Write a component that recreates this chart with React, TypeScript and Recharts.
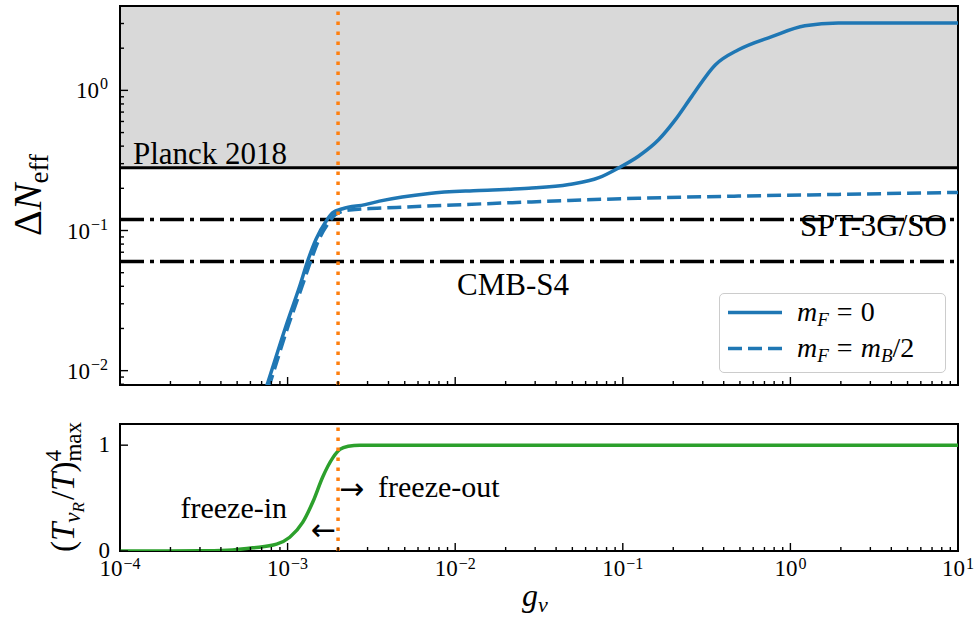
import React from "react";
import {
    LineChart,
    Line,
    XAxis,
    YAxis,
    ReferenceLine,
    ReferenceArea,
    Legend,
} from "recharts";

const BLUE = "#1f77b4";
const ORANGE = "#ff7f0e";
const GREEN = "#2ca02c";
const FONT = "Liberation Serif, Times New Roman, DejaVu Serif, serif";
const ARROW_FONT = "DejaVu Sans, sans-serif";

// m_F = 0 (solid)
const gSolid = [
    6.3e-4, 7.64e-4, 9.8e-4, 1.18e-3, 1.32e-3, 1.48e-3, 1.7e-3, 1.86e-3, 2.13e-3, 2.9e-3,
    3.53e-3, 7.0e-3, 0.0139, 0.0275, 0.0477, 0.072, 0.0946, 0.124, 0.164, 0.206, 0.258,
    0.356, 0.49, 0.774, 1.22, 1.93, 10,
];
const dNeffSolid = [
    0.0041, 0.0083, 0.021, 0.04, 0.061, 0.087, 0.117, 0.134, 0.143, 0.153,
    0.162, 0.184, 0.193, 0.2, 0.213, 0.238, 0.28, 0.339, 0.446, 0.618, 0.906,
    1.52, 1.95, 2.42, 2.89, 3.02, 3.02,
];

// m_F = m_B/2 (dashed)
const gDashed = [
    6.5e-4, 7.9e-4, 1.01e-3, 1.22e-3, 1.37e-3, 1.53e-3, 1.76e-3, 1.93e-3, 2.34e-3, 4.44e-3,
    0.011, 0.0219, 0.0477, 0.124, 0.49, 1.93, 10,
];
const dNeffDashed = [
    0.004, 0.0083, 0.021, 0.04, 0.06, 0.085, 0.114, 0.13, 0.14, 0.146,
    0.153, 0.158, 0.164, 0.17, 0.176, 0.181, 0.187,
];

// (T_nuR / T)^4_max
const gTemp = [
    1e-4, 2e-4, 3e-4, 4e-4, 4.7e-4, 6.2e-4, 8.6e-4, 1.03e-3, 1.23e-3, 1.42e-3, 1.62e-3,
    1.86e-3, 2.05e-3, 2.3e-3, 2.7e-3, 10,
];
const tempRatio = [
    0, 0.0005, 0.002, 0.005, 0.01, 0.03, 0.065, 0.13, 0.27, 0.47, 0.7,
    0.88, 0.96, 0.99, 1.0, 1.0,
];

const planckLimit = 0.28;
const sptLimit = 0.12;
const cmbS4Limit = 0.06;
const gTransition = 2e-3;

const xDomain = [1e-4, 10];
const yDomainTop = [0.0079, 4.0];
const yDomainBottom = [0, 1.2];
const yTicksBottom = [0, 1];

const decadeTicks = (lo: number, hi: number) => {
    const out: number[] = [];
    for (let e = Math.floor(Math.log10(lo)); e <= Math.ceil(Math.log10(hi)); e++) {
        for (let m = 1; m <= 9; m++) {
            const v = m * Math.pow(10, e);
            if (v >= lo * 0.999 && v <= hi * 1.001) out.push(v);
        }
    }
    return out;
};
const xTicks = decadeTicks(xDomain[0], xDomain[1]);
const yTicksTop = decadeTicks(yDomainTop[0], yDomainTop[1]);

const solidData = gSolid.map((g, i) => ({ g, v: dNeffSolid[i] }));
const dashedData = gDashed.map((g, i) => ({ g, v: dNeffDashed[i] }));
const tempData = gTemp.map((g, i) => ({ g, v: tempRatio[i] }));

const isMajor = (v: number) =>
    Math.abs(Math.log10(v) - Math.round(Math.log10(v))) < 1e-6;
const expText = (v: number) => {
    const e = Math.round(Math.log10(v));
    return e < 0 ? `\u2212${-e}` : `${e}`;
};

const PLOT_LEFT = 120;
const TOP_BOTTOM = 385;
const BOT_BOTTOM = 161; // bottom panel chart starts at page y=390

function LogXTick(props: any) {
    const { x, payload, bottom, showLabel } = props;
    const major = isMajor(payload.value);
    return (
        <g>
            <line x1={x} x2={x} y1={bottom} y2={bottom - (major ? 8 : 4)} stroke="#000" strokeWidth={1.4} />
            {showLabel && major && (
                <text x={x} y={bottom + 25} textAnchor="middle" fontFamily={FONT} fontSize={23} fill="#000">
                    10
                    <tspan dy={-7} dx={1} fontSize={16}>{expText(payload.value)}</tspan>
                </text>
            )}
        </g>
    );
}

function LogYTick(props: any) {
    const { y, payload } = props;
    const major = isMajor(payload.value);
    return (
        <g>
            <line x1={PLOT_LEFT} x2={PLOT_LEFT + (major ? 8 : 4)} y1={y} y2={y} stroke="#000" strokeWidth={1.4} />
            {major && (
                <text x={PLOT_LEFT - 12} y={y + 8} textAnchor="end" fontFamily={FONT} fontSize={23} fill="#000">
                    10
                    <tspan dy={-9} dx={1} fontSize={16}>{expText(payload.value)}</tspan>
                </text>
            )}
        </g>
    );
}

function LinYTick(props: any) {
    const { y, payload } = props;
    return (
        <g>
            <line x1={PLOT_LEFT} x2={PLOT_LEFT + 8} y1={y} y2={y} stroke="#000" strokeWidth={1.4} />
            <text x={PLOT_LEFT - 10} y={y + 7} textAnchor="end" fontFamily={FONT} fontSize={23} fill="#000">
                {payload.value}
            </text>
        </g>
    );
}

const DeltaNeffTitle = () => (
    <text transform="translate(41,195) rotate(-90)" textAnchor="middle" fontFamily={FONT} fontSize={40} fill="#000">
        Δ<tspan fontStyle="italic">N</tspan>
        <tspan fontSize={27} dy={7}>eff</tspan>
    </text>
);

const TempTitle = () => (
    <text transform="translate(74,97) rotate(-90)" textAnchor="middle" fontFamily={FONT} fontSize={33} fill="#000">
        (<tspan fontStyle="italic">T</tspan>
        <tspan fontStyle="italic" fontSize={23} dy={6}>ν</tspan>
        <tspan fontStyle="italic" fontSize={17} dy={4}>R</tspan>
        <tspan dy={-10} dx={2}>/</tspan>
        <tspan fontStyle="italic">T</tspan>)
        <tspan fontSize={23} dy={-13}>4</tspan>
        <tspan fontSize={23} dx={-11.5} dy={20}>max</tspan>
    </text>
);

const GTitle = () => (
    <text x={535} y={216} textAnchor="middle" fontFamily={FONT} fontSize={32} fill="#000">
        <tspan fontStyle="italic">g</tspan>
        <tspan fontStyle="italic" fontSize={22} dy={6}>ν</tspan>
    </text>
);

const labelText = {
    fontFamily: FONT,
    fontSize: 31,
    fill: "#000",
};

function LegendBox() {
    return (
        <div
            style={{
                width: 227,
                height: 80,
                boxSizing: "border-box",
                border: "1.5px solid #cccccc",
                borderRadius: 5,
                background: "rgba(255,255,255,0.8)",
            }}
        >
            <svg width={224} height={77} style={{ display: "block" }}>
                <line x1={8} x2={62} y1={18.5} y2={18.5} stroke={BLUE} strokeWidth={3.5} />
                <text x={77} y={27} fontFamily={FONT} fontSize={28} fill="#000">
                    <tspan fontStyle="italic">m</tspan>
                    <tspan fontStyle="italic" fontSize={19} dy={5}>F</tspan>
                    <tspan dy={-5} dx={8}>=</tspan>
                    <tspan dx={8}>0</tspan>
                </text>
                <line x1={8} x2={62} y1={54.5} y2={54.5} stroke={BLUE} strokeWidth={3.5} strokeDasharray="14 6" />
                <text x={77} y={63} fontFamily={FONT} fontSize={28} fill="#000">
                    <tspan fontStyle="italic">m</tspan>
                    <tspan fontStyle="italic" fontSize={19} dy={5}>F</tspan>
                    <tspan dy={-5} dx={8}>=</tspan>
                    <tspan dx={8} fontStyle="italic">m</tspan>
                    <tspan fontStyle="italic" fontSize={19} dy={5}>B</tspan>
                    <tspan dy={-5}>/2</tspan>
                </text>
            </svg>
        </div>
    );
}

export default function App() {
    return (
        <div style={{ position: "absolute", left: 0, top: 0, width: 976, height: 622, background: "#fff" }}>
            <LineChart width={976} height={390} margin={{ top: 6, right: 18, bottom: 4, left: 60 }}>
                <ReferenceArea
                    x1={xDomain[0]}
                    x2={xDomain[1]}
                    y1={planckLimit}
                    y2={yDomainTop[1]}
                    fill="#d9d9d9"
                    fillOpacity={1}
                    stroke="none"
                />
                <XAxis
                    dataKey="g"
                    type="number"
                    scale="log"
                    domain={xDomain}
                    allowDataOverflow
                    ticks={xTicks}
                    interval={0}
                    height={1}
                    axisLine={false}
                    tickLine={false}
                    tick={(p: any) => <LogXTick {...p} bottom={TOP_BOTTOM} showLabel={false} />}
                />
                <YAxis
                    type="number"
                    scale="log"
                    domain={yDomainTop}
                    allowDataOverflow
                    ticks={yTicksTop}
                    interval={0}
                    width={60}
                    axisLine={false}
                    tickLine={false}
                    tick={(p: any) => <LogYTick {...p} />}
                    label={<DeltaNeffTitle />}
                />
                <ReferenceLine
                    y={planckLimit}
                    stroke="#000"
                    strokeWidth={3}
                    label={(p: any) => (
                        <text x={p.viewBox.x + 13} y={p.viewBox.y - 4} {...labelText}>
                            Planck 2018
                        </text>
                    )}
                />
                <ReferenceLine
                    y={sptLimit}
                    stroke="#000"
                    strokeWidth={3.5}
                    strokeDasharray="24 6 4 6"
                    label={(p: any) => (
                        <text
                            x={p.viewBox.x + p.viewBox.width - 11}
                            y={p.viewBox.y + 17}
                            textAnchor="end"
                            {...labelText}
                        >
                            SPT-3G/SO
                        </text>
                    )}
                />
                <ReferenceLine
                    y={cmbS4Limit}
                    stroke="#000"
                    strokeWidth={3.5}
                    strokeDasharray="24 6 4 6"
                    label={(p: any) => (
                        <text x={p.viewBox.x + 337} y={p.viewBox.y + 33} {...labelText}>
                            CMB-S4
                        </text>
                    )}
                />
                <Line
                    data={solidData}
                    dataKey="v"
                    type="monotone"
                    stroke={BLUE}
                    strokeWidth={3.5}
                    dot={false}
                    isAnimationActive={false}
                    name="m_F = 0"
                />
                <Line
                    data={dashedData}
                    dataKey="v"
                    type="monotone"
                    stroke={BLUE}
                    strokeWidth={3.5}
                    strokeDasharray="14 6"
                    dot={false}
                    isAnimationActive={false}
                    name="m_F = m_B/2"
                />
                <ReferenceLine x={gTransition} stroke={ORANGE} strokeWidth={3.5} strokeDasharray="3.5 6.5" />
                <ReferenceArea
                    x1={xDomain[0]}
                    x2={xDomain[1]}
                    y1={yDomainTop[0]}
                    y2={yDomainTop[1]}
                    fill="none"
                    stroke="#000"
                    strokeWidth={2}
                />
                <Legend
                    layout="vertical"
                    align="center"
                    verticalAlign="middle"
                    wrapperStyle={{ left: 719, top: 293, width: 227, height: 80 }}
                    content={() => <LegendBox />}
                />
            </LineChart>

            <div style={{ position: "absolute", left: 0, top: 390 }}>
                <LineChart width={976} height={232} margin={{ top: 34, right: 18, bottom: 40, left: 60 }}>
                    <XAxis
                        dataKey="g"
                        type="number"
                        scale="log"
                        domain={xDomain}
                        allowDataOverflow
                        ticks={xTicks}
                        interval={0}
                        height={31}
                        axisLine={false}
                        tickLine={false}
                        tick={(p: any) => <LogXTick {...p} bottom={BOT_BOTTOM} showLabel />}
                        label={<GTitle />}
                    />
                    <YAxis
                        type="number"
                        domain={yDomainBottom}
                        allowDataOverflow
                        ticks={yTicksBottom}
                        interval={0}
                        width={60}
                        axisLine={false}
                        tickLine={false}
                        tick={(p: any) => <LinYTick {...p} />}
                        label={<TempTitle />}
                    />
                    <Line
                        data={tempData}
                        dataKey="v"
                        type="monotone"
                        stroke={GREEN}
                        strokeWidth={3.5}
                        dot={false}
                        isAnimationActive={false}
                    />
                    <ReferenceLine
                        x={gTransition}
                        stroke={ORANGE}
                        strokeWidth={3.5}
                        strokeDasharray="3.5 6.5"
                        label={(p: any) => {
                            const lx = p.viewBox.x;
                            const top = p.viewBox.y;
                            return (
                                <g>
                                    <text x={lx - 51} y={top + 94} textAnchor="end" {...labelText} fontSize={30}>
                                        freeze-in
                                    </text>
                                    <text x={lx - 2} y={top + 116} textAnchor="end" fontFamily={ARROW_FONT} fontSize={30} fill="#000">
                                        ←
                                    </text>
                                    <text x={lx + 1} y={top + 75} fontFamily={ARROW_FONT} fontSize={30} fill="#000">
                                        →
                                    </text>
                                    <text x={lx + 40} y={top + 73} {...labelText} fontSize={30}>
                                        freeze-out
                                    </text>
                                </g>
                            );
                        }}
                    />
                    <ReferenceArea
                        x1={xDomain[0]}
                        x2={xDomain[1]}
                        y1={yDomainBottom[0]}
                        y2={yDomainBottom[1]}
                        fill="none"
                        stroke="#000"
                        strokeWidth={2}
                    />
                </LineChart>
            </div>
        </div>
    );
}
